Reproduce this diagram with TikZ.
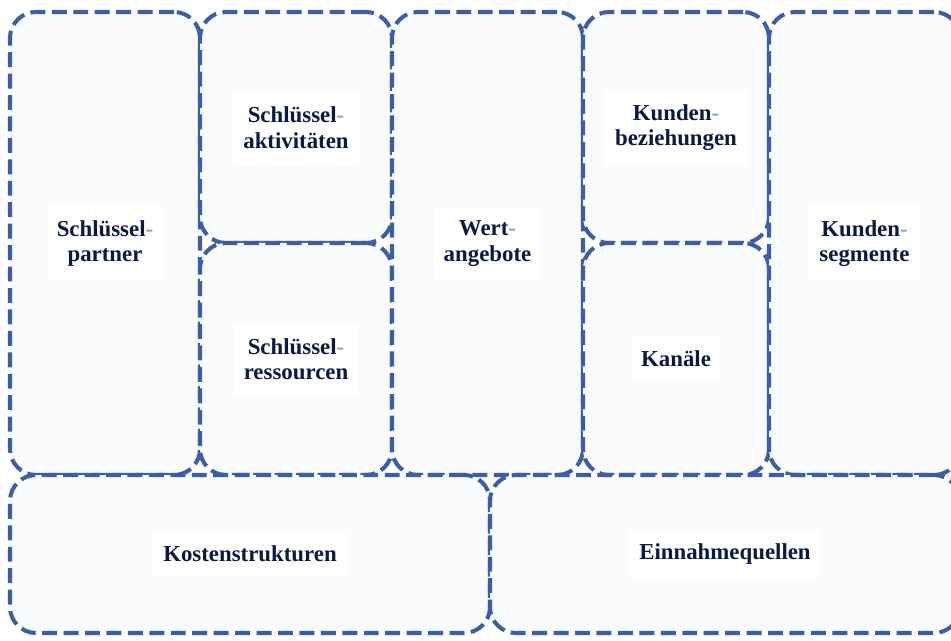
\documentclass[tikz,border=0pt]{standalone}
\usepackage{fontspec}
\setmainfont{Liberation Serif}
\usetikzlibrary{positioning}
\definecolor{rim}{HTML}{3B5EA6}
\definecolor{paper}{HTML}{FAFBFD}
\definecolor{ink}{HTML}{0B1A45}
\definecolor{hyph}{HTML}{8E9CC0}
\newcommand{\hy}{\textcolor{hyph}{-}}

\begin{document}
\begin{tikzpicture}[node distance=0pt,outer sep=0pt,
                    block/.style={draw=rim,fill=paper,line width=2.3pt,
                      dash pattern=on 8.5pt off 3.7pt,rounded corners=0.52cm,
                      inner sep=0pt},
                    tag/.style={fill=white,text=ink,align=center,
                      font=\fontsize{13}{14.5}\selectfont\bfseries,
                      inner xsep=0.2cm,inner ysep=0.28cm}]

  \useasboundingbox[fill=white] (0,0) rectangle (19.02,-12.82);

  \node[block,minimum width=3.8cm, minimum height=9.26cm] (partner) at (0.2,-0.24) [anchor=north west] {};
  \node[block,minimum width=3.84cm,minimum height=4.62cm] (aktiv) [right=of partner.north east,anchor=north west] {};
  \node[block,minimum width=3.84cm,minimum height=4.64cm] (ressource) [below=of aktiv.south west,anchor=north west] {};
  \node[block,minimum width=3.82cm,minimum height=9.26cm] (wert) [right=of aktiv.north east,anchor=north west] {};
  \node[block,minimum width=3.72cm,minimum height=4.62cm] (bezieh) [right=of wert.north east,anchor=north west] {};
  \node[block,minimum width=3.72cm,minimum height=4.64cm] (kanal) [below=of bezieh.south west,anchor=north west] {};
  \node[block,minimum width=3.82cm,minimum height=9.26cm] (segment) [right=of bezieh.north east,anchor=north west] {};
  \node[block,minimum width=9.6cm, minimum height=3.16cm] (kosten) [below=of partner.south west,anchor=north west] {};
  \node[block,minimum width=9.4cm, minimum height=3.16cm] (einnahme) [right=of kosten.north east,anchor=north west] {};

  \node[tag] (partnerT)   at (partner)   {Schlüssel\hy\\partner};
  \node[tag] (aktivT)     at (aktiv)     {Schlüssel\hy\\aktivitäten};
  \node[tag] (ressourceT) at (ressource) {Schlüssel\hy\\ressourcen};
  \node[tag] (wertT)      at (wert)      {Wert\hy\\angebote};
  \node[tag] (beziehT)    at (bezieh)    {Kunden\hy\\beziehungen};
  \node[tag] (kanalT)     at (kanal)     {Kanäle};
  \node[tag] (segmentT)   at (segment)   {Kunden\hy\\segmente};
  \node[tag] (kostenT)    at (kosten)    {Kostenstrukturen};
  \node[tag] (einnahmeT)  at (einnahme)  {Einnahmequellen};
\end{tikzpicture}
\end{document}
